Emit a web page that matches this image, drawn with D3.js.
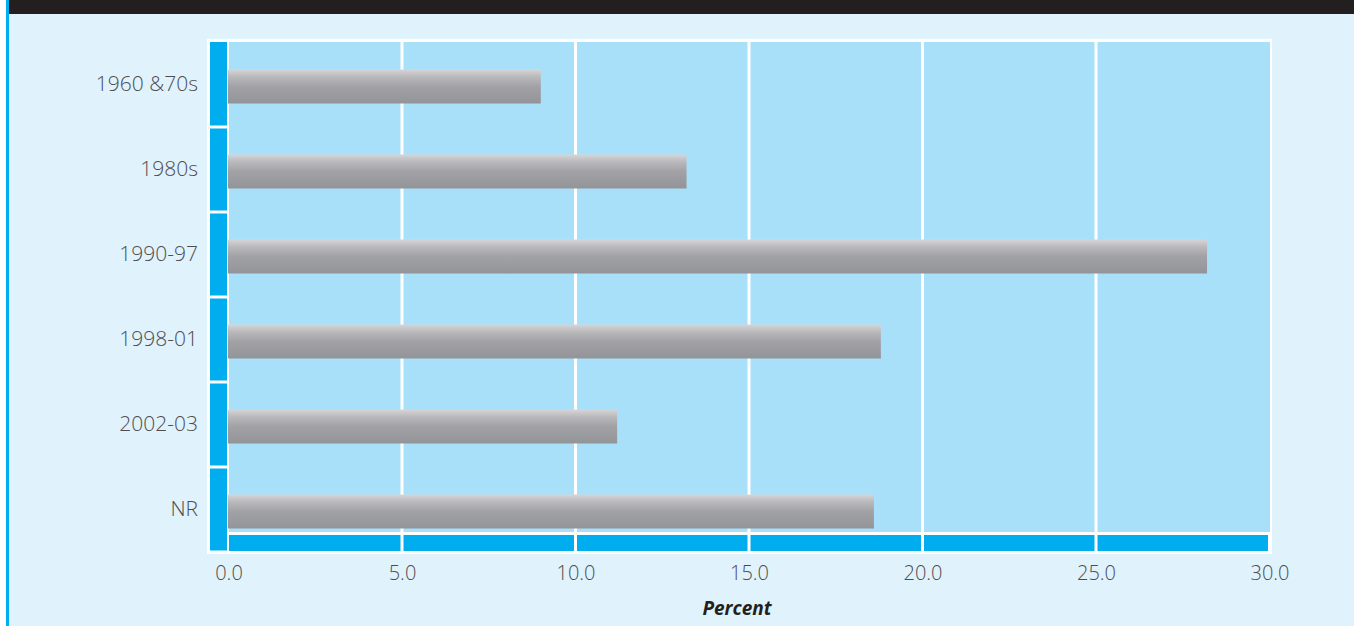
<!DOCTYPE html>
<html>
<head>
<meta charset="utf-8">
<script src="https://cdn.jsdelivr.net/npm/d3@7"></script>
<style>
  html, body { margin: 0; padding: 0; background: #ffffff; }
  svg { display: block; }
</style>
</head>
<body>
<svg id="chart" width="1354" height="626"></svg>
<script>
// Survey period categories and the share (percent) of respondents in each
const categories = ["1960 &70s", "1980s", "1990-97", "1998-01", "2002-03", "NR"];
const values = [9.0, 13.2, 28.2, 18.8, 11.2, 18.6];
const tickValues = [0, 5, 10, 15, 20, 25, 30];
const axisTitle = "Percent";

const W = 1354, H = 626;
const svg = d3.select("#chart");

const C = {
  page: "#e0f2fc",
  plot: "#a8dff9",
  strip: "#00aeef",
  header: "#231f20",
  text: "#4d4d4f",
  title: "#231f20"
};

// page background, left rule and header band
svg.append("rect").attr("x", 9).attr("y", 0).attr("width", W - 9).attr("height", H).attr("fill", C.page);
svg.append("rect").attr("x", 6).attr("y", 0).attr("width", 3).attr("height", H).attr("fill", C.strip);
svg.append("rect").attr("x", 9).attr("y", 0).attr("width", W - 9).attr("height", 14).attr("fill", C.header);

// geometry of the plotting frame
const plotLeft = 229, plotRight = 1270, plotTop = 42, plotBottom = 532;
const stripLeft = 210, stripRight = 227;
const baseTop = 535, baseBottom = 551;

const x = d3.scaleLinear().domain([0, 30]).range([228.5, 1269.5]);
const y = d3.scaleBand().domain(categories).range([plotTop, 552]);

// gradient for the bars
const defs = svg.append("defs");
const grad = defs.append("linearGradient").attr("id", "barGrad")
  .attr("x1", 0).attr("y1", 0).attr("x2", 0).attr("y2", 1);
[[0, "#d6d6d8"], [0.22, "#b9b9bc"], [0.5, "#a2a2a6"], [1, "#939498"]].forEach(([o, c]) =>
  grad.append("stop").attr("offset", o).attr("stop-color", c));

// white frame
svg.append("rect").attr("x", 207).attr("y", 39).attr("width", 1272 - 207).attr("height", 554 - 39).attr("fill", "#ffffff");

// plot area
svg.append("rect").attr("x", plotLeft).attr("y", plotTop)
  .attr("width", plotRight - plotLeft).attr("height", plotBottom - plotTop).attr("fill", C.plot);

// left category strip, one segment per band
svg.append("g").selectAll("rect").data(categories).join("rect")
  .attr("x", stripLeft).attr("width", stripRight - stripLeft)
  .attr("y", d => y(d) + (d === categories[0] ? 0 : 1.5))
  .attr("height", d => y.bandwidth() - (d === categories[0] ? 1.5 : 3))
  .attr("fill", C.strip);

// bottom value strip, one segment per tick interval
const intervals = d3.pairs(tickValues);
svg.append("g").selectAll("rect").data(intervals).join("rect")
  .attr("x", d => x(d[0]) + (d[0] === 0 ? 0.5 : 1.5))
  .attr("width", d => x(d[1]) - x(d[0]) - (d[0] === 0 ? 2 : 3))
  .attr("y", baseTop).attr("height", baseBottom - baseTop)
  .attr("fill", C.strip);

// vertical grid lines
svg.append("g").selectAll("line").data(tickValues.slice(1, -1)).join("line")
  .attr("x1", d => x(d)).attr("x2", d => x(d))
  .attr("y1", plotTop).attr("y2", plotBottom)
  .attr("stroke", "#ffffff").attr("stroke-width", 3);

// bars
const barH = 34;
svg.append("g").selectAll("rect").data(categories).join("rect")
  .attr("x", x(0) - 0.5)
  .attr("y", d => y(d) + y.bandwidth() / 2 + 2 - barH / 2)
  .attr("width", (d, i) => x(values[i]) - x(0) + 0.5)
  .attr("height", barH)
  .attr("fill", "url(#barGrad)");

// x axis tick labels
const xAxis = d3.axisBottom(x).tickValues(tickValues).tickFormat(d3.format(".1f")).tickSize(0).tickPadding(0);
const gx = svg.append("g").attr("transform", `translate(0,${564})`).call(xAxis);
gx.select(".domain").remove();
gx.selectAll("text")
  .attr("dy", "0.8em")
  .attr("fill", C.text)
  .style("font-family", "'Open Sans', sans-serif")
  .style("font-weight", 300)
  .style("font-size", "20px");

// category labels
const yAxis = d3.axisLeft(y).tickSize(0).tickPadding(0);
const gy = svg.append("g").attr("transform", `translate(${198},0)`).call(yAxis);
gy.select(".domain").remove();
gy.selectAll("text")
  .attr("fill", C.text)
  .style("font-family", "'Open Sans', sans-serif")
  .style("font-weight", 300)
  .style("font-size", "21px");

// axis title
svg.append("text")
  .attr("x", 737).attr("y", 615)
  .attr("text-anchor", "middle")
  .attr("fill", C.title)
  .style("font-family", "'Open Sans', sans-serif")
  .style("font-weight", 700)
  .style("font-style", "italic")
  .style("font-size", "19px")
  .text(axisTitle);
</script>
</body>
</html>
